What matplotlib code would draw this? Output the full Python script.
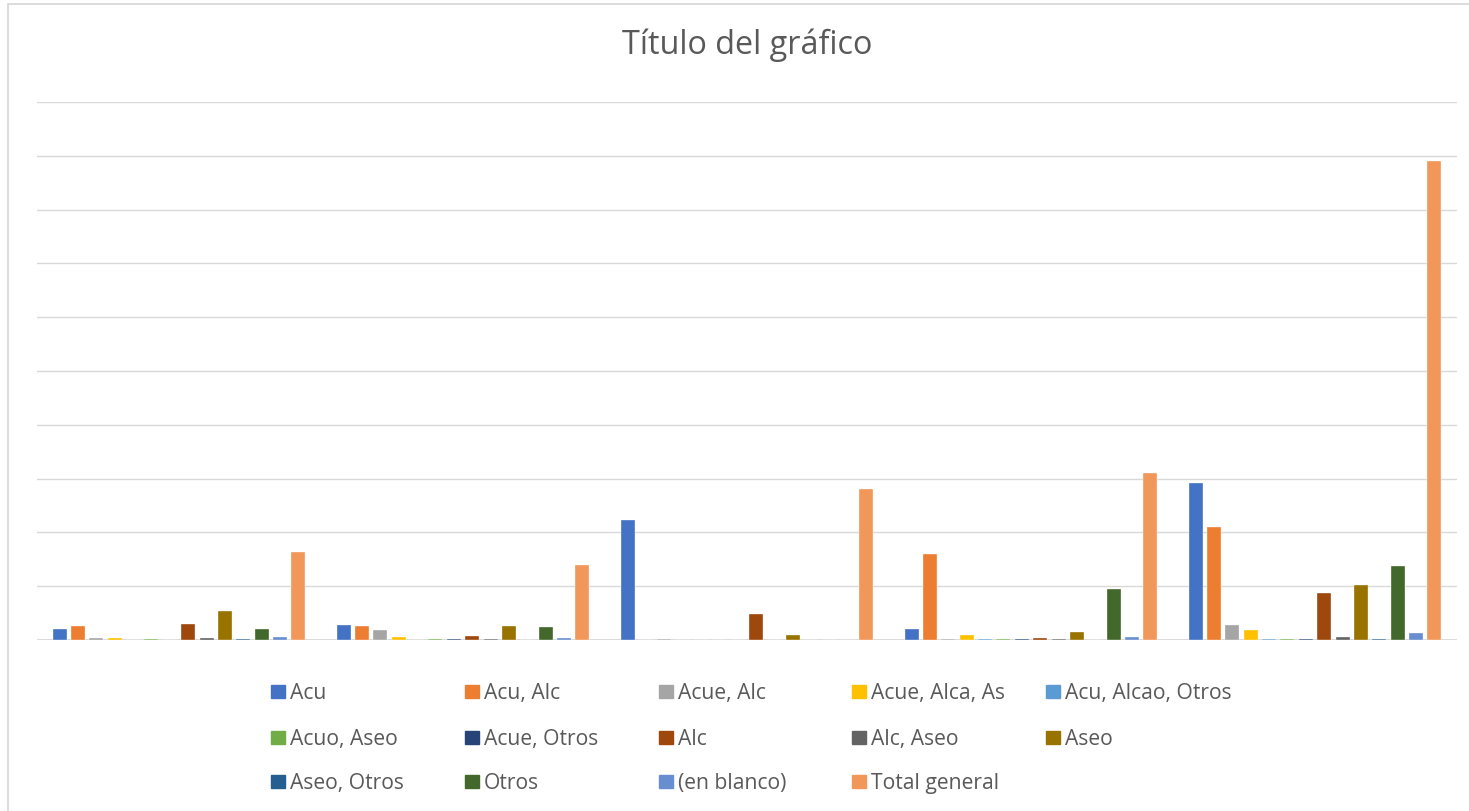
import matplotlib.pyplot as plt
from matplotlib.patches import Rectangle
import numpy as np

# Series data: one value per category group (5 groups, no category labels)
series_names = [
    "Acu", "Acu, Alc", "Acue, Alc", "Acue, Alca, As", "Acu, Alcao, Otros",
    "Acuo, Aseo", "Acue, Otros", "Alc", "Alc, Aseo", "Aseo",
    "Aseo, Otros", "Otros", "(en blanco)", "Total general",
]
acu = [0.20, 0.28, 2.23, 0.20, 2.92]
acu_alc = [0.26, 0.26, 0.0, 1.60, 2.10]
acue_alc = [0.04, 0.19, 0.015, 0.025, 0.27]
acue_alca_as = [0.03, 0.06, 0.0, 0.10, 0.18]
acu_alcao_otros = [0.005, 0.0, 0.0, 0.01, 0.01]
acuo_aseo = [0.015, 0.015, 0.0, 0.01, 0.01]
acue_otros = [0.0, 0.015, 0.0, 0.015, 0.015]
alc = [0.30, 0.08, 0.48, 0.04, 0.87]
alc_aseo = [0.035, 0.015, 0.0, 0.015, 0.05]
aseo = [0.54, 0.26, 0.10, 0.15, 1.02]
aseo_otros = [0.015, 0.0, 0.0, 0.0, 0.01]
otros = [0.20, 0.24, 0.0, 0.95, 1.38]
en_blanco = [0.05, 0.035, 0.0, 0.05, 0.13]
total_general = [1.64, 1.39, 2.81, 3.10, 8.90]

values = [
    acu, acu_alc, acue_alc, acue_alca_as, acu_alcao_otros,
    acuo_aseo, acue_otros, alc, alc_aseo, aseo,
    aseo_otros, otros, en_blanco, total_general,
]

# Office palette
colors = [
    "#4472C4", "#ED7D31", "#A5A5A5", "#FFC000", "#5B9BD5",
    "#70AD47", "#264478", "#9E480E", "#636363", "#997300",
    "#255E91", "#43682B", "#698ED0", "#F1975A",
]

text_color = "#595959"
grid_color = "#D9D9D9"
font = ["Open Sans", "DejaVu Sans"]

W, H = 1469, 812
fig = plt.figure(figsize=(W / 100, H / 100), dpi=100)

# chart area border
fig.patches.append(Rectangle((7.5 / W, -0.1), 1.2, (H - 4.5) / H + 0.1,
                             transform=fig.transFigure, fill=False,
                             edgecolor=grid_color, linewidth=1.3))

ax = fig.add_axes([37 / W, (H - 641) / H, (1457 - 37) / W, (641 - 103) / H])

n_cat = len(total_general)
n_ser = len(values)
x = np.arange(n_cat)
slot = 18.34 / 284
bar_w = 14 / 284

for i, (vals, c) in enumerate(zip(values, colors)):
    offs = (i - (n_ser - 1) / 2) * slot
    ax.bar(x + offs, vals, width=bar_w, color=c, edgecolor="white",
           linewidth=0.25, zorder=3)

ax.set_xlim(-0.5, n_cat - 0.5)
ax.set_ylim(0, 10)
ax.set_yticks(np.arange(0, 11, 1))
ax.yaxis.grid(True, color=grid_color, linewidth=1.0, zorder=0)
ax.tick_params(left=False, bottom=False, labelleft=False, labelbottom=False)
for s in ax.spines.values():
    s.set_visible(False)
ax.axhline(0, color=grid_color, linewidth=1.3, zorder=2)

fig.text(747 / W, 1 - 54 / H, "Título del gráfico", ha="center", va="baseline",
         fontsize=23.3, color=text_color, family=font)

# legend laid out in a 5-column grid
col_left = [271, 465, 659, 852, 1046]
row_base = [699, 745, 789]
for i, (name, c) in enumerate(zip(series_names, colors)):
    r, col = divmod(i, 5)
    xl, yb = col_left[col], row_base[r]
    fig.patches.append(Rectangle((xl / W, 1 - yb / H), 14 / W, 13.5 / H,
                                 transform=fig.transFigure, color=c))
    fig.text((xl + 19) / W, 1 - yb / H, name, ha="left", va="baseline",
             fontsize=15.2, color=text_color, family=font)

fig.savefig("out.png", dpi=100)
